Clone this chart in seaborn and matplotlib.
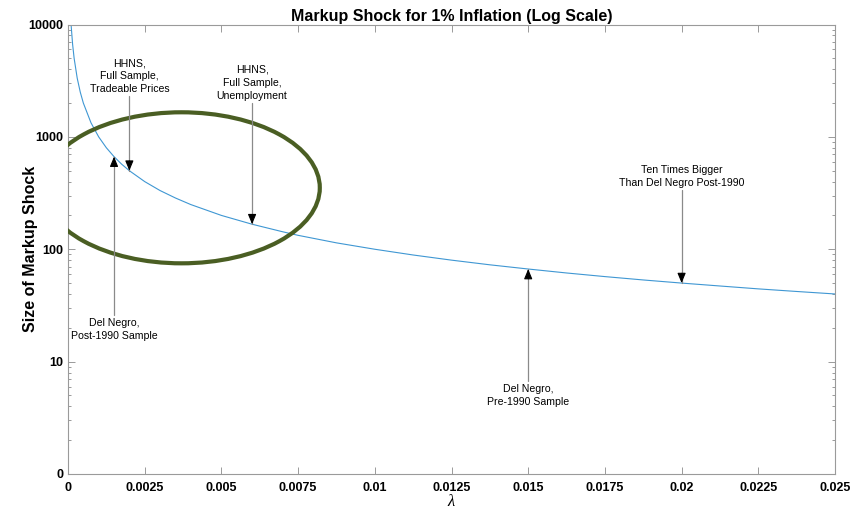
import matplotlib
matplotlib.use("Agg")
import matplotlib.pyplot as plt
from matplotlib.patches import Ellipse
from matplotlib.ticker import FixedLocator, FixedFormatter, LogLocator, NullFormatter
import numpy as np
import pandas as pd
import seaborn as sns

# Markup shock needed for 1% inflation, by lambda
lam = [0.0001, 0.00015, 0.0002, 0.0003, 0.0004, 0.0005, 0.00075, 0.001, 0.00125,
       0.0015, 0.00175, 0.002, 0.0025, 0.003, 0.0035, 0.004, 0.005, 0.006, 0.007,
       0.0075, 0.00875, 0.01, 0.01125, 0.0125, 0.01375, 0.015, 0.01625, 0.0175,
       0.01875, 0.02, 0.02125, 0.0225, 0.02375, 0.025]
shock = [10000, 6667, 5000, 3333, 2500, 2000, 1333, 1000, 800,
         667, 571, 500, 400, 333, 286, 250, 200, 167, 143,
         133, 114, 100, 88.9, 80, 72.7, 66.7, 61.5, 57.1,
         53.3, 50, 47.1, 44.4, 42.1, 40]

x_ticks = [0, 0.0025, 0.005, 0.0075, 0.01, 0.0125, 0.015, 0.0175, 0.02, 0.0225, 0.025]
x_tick_labels = ["0", "0.0025", "0.005", "0.0075", "0.01", "0.0125", "0.015",
                 "0.0175", "0.02", "0.0225", "0.025"]
y_ticks = [1, 10, 100, 1000, 10000]
y_tick_labels = ["0", "10", "100", "1000", "10000"]

# Annotated estimates: (label, lambda, shock at tip, shaft end, text side)
notes = [
    ("Del Negro,\nPost-1990 Sample", 0.0015, 667, 26.0, "below"),
    ("HHNS,\nFull Sample,\nTradeable Prices", 0.002, 500, 2300, "above"),
    ("HHNS,\nFull Sample,\nUnemployment", 0.006, 167, 2000, "above"),
    ("Del Negro,\nPre-1990 Sample", 0.015, 66.7, 6.7, "below"),
    ("Ten Times Bigger\nThan Del Negro Post-1990", 0.02, 50, 336, "above"),
]

sns.set_style("white")
plt.rcParams["font.family"] = ["Liberation Sans", "DejaVu Sans"]
plt.rcParams["text.color"] = "black"
plt.rcParams["mathtext.fontset"] = "custom"
plt.rcParams["mathtext.it"] = "Liberation Serif:italic"

fig = plt.figure(figsize=(8.52, 5.12), dpi=100)
ax = fig.add_axes([68 / 852, 1 - 474 / 512, 767 / 852, 449.5 / 512])

df = pd.DataFrame({"lam": lam, "shock": shock})
sns.lineplot(data=df, x="lam", y="shock", ax=ax, color="#3f97d3", lw=0.8)

ax.set_yscale("log")
ax.set_xlim(0, 0.025)
ax.set_ylim(1, 10000)

ax.xaxis.set_major_locator(FixedLocator(x_ticks))
ax.xaxis.set_major_formatter(FixedFormatter(x_tick_labels))
ax.yaxis.set_major_locator(FixedLocator(y_ticks))
ax.yaxis.set_major_formatter(FixedFormatter(y_tick_labels))
ax.yaxis.set_minor_locator(LogLocator(base=10, subs=np.arange(2, 10)))
ax.yaxis.set_minor_formatter(NullFormatter())

spine_col = "#9a9a9a"
for s in ax.spines.values():
    s.set_visible(True)
    s.set_color(spine_col)
    s.set_linewidth(0.8)
ax.tick_params(which="both", direction="in", top=True, right=True, left=True,
               bottom=True, color=spine_col, width=0.7, labelsize=9,
               labelcolor="black")
ax.tick_params(which="major", length=5)
ax.tick_params(which="minor", length=2.5)
ax.tick_params(axis="x", pad=5.5)
ax.tick_params(axis="y", pad=3.5)
for lab in ax.get_xticklabels() + ax.get_yticklabels():
    lab.set_fontweight("bold")

ax.set_title("Markup Shock for 1% Inflation (Log Scale)", fontsize=11.5,
             fontweight="bold", pad=2, color="black")
ax.set_ylabel("Size of Markup Shock", fontsize=11.5, fontweight="bold",
              color="black")
ax.yaxis.set_label_coords(-0.039, 0.5)
ax.set_xlabel(r"$\lambda$", fontsize=12, color="black")
ax.xaxis.set_label_coords(0.5, -0.042)

# Highlighted region of plausible estimates
ax.add_patch(Ellipse((0.148, 0.6367), 0.3606, 0.336, transform=ax.transAxes,
                     fill=False, edgecolor="#4a5e23", lw=3, zorder=3))

for text, x, tip, tail, side in notes:
    ax.plot([x, x], [tail, tip], color="#8a8a8a", lw=0.9, zorder=4)
    ax.annotate("", xy=(x, tip), xytext=(0, -7 if tip > tail else 7),
                textcoords="offset points",
                arrowprops=dict(arrowstyle="-|>,head_length=0.6,head_width=0.25",
                                color="black", lw=0.8, shrinkA=0, shrinkB=0),
                zorder=5)
    if side == "above":
        ax.annotate(text, xy=(x, tail), xytext=(0, 1.5), textcoords="offset points",
                    ha="center", va="bottom", fontsize=7.6, linespacing=1.38)
    else:
        ax.annotate(text, xy=(x, tail), xytext=(0, -2), textcoords="offset points",
                    ha="center", va="top", fontsize=7.6, linespacing=1.38)

fig.savefig("out.png", dpi=100)
